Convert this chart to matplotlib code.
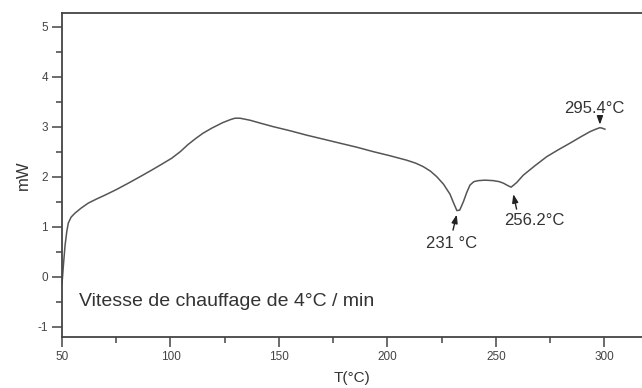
import matplotlib.pyplot as plt

plt.rcParams["font.family"] = ["Liberation Sans", "DejaVu Sans"]
plt.rcParams["axes.unicode_minus"] = False

# DSC curve
temp = [50.0, 50.6, 51.4, 52.2, 52.9, 54.2, 56.0, 58.8, 62.1, 65.8, 69.8,
        75.0, 80.6, 86.0, 91.3, 96.0, 100.6, 104.5, 108.0, 111.5, 115.0,
        119.0, 124.0, 127.5, 129.7, 132.0, 136.6, 141.5, 147.4, 155.0,
        162.8, 170.5, 178.1, 185.8, 193.5, 201.0, 208.8, 213.0, 216.5,
        219.8, 222.7, 225.8, 228.8, 230.5, 232.0, 233.3, 235.0, 236.5,
        238.0, 239.8, 241.8, 245.0, 248.8, 251.5, 253.4, 255.5, 257.0,
        259.5, 262.6, 268.0, 273.4, 278.8, 284.1, 288.8, 293.3, 296.0,
        297.9, 299.0, 300.2]
mw = [-0.15, 0.2, 0.62, 0.9, 1.07, 1.19, 1.27, 1.37, 1.47, 1.55, 1.63,
      1.74, 1.87, 2.0, 2.13, 2.25, 2.37, 2.5, 2.64, 2.76, 2.87,
      2.97, 3.08, 3.14, 3.17, 3.17, 3.13, 3.07, 3.0, 2.92,
      2.83, 2.75, 2.67, 2.59, 2.5, 2.42, 2.33, 2.27, 2.2,
      2.11, 2.0, 1.85, 1.65, 1.47, 1.32, 1.33, 1.5, 1.68,
      1.83, 1.9, 1.92, 1.93, 1.92, 1.9, 1.87, 1.82, 1.79,
      1.88, 2.03, 2.22, 2.4, 2.54, 2.67, 2.79, 2.9, 2.95,
      2.98, 2.97, 2.95]

# peak labels: text, label position, arrow tail, arrow tip
peak_text = ["231 °C", "256.2°C", "295.4°C"]
label_xy = [(229.5, 0.67), (267.5, 1.13), (295.2, 3.37)]
tail_xy = [(230.2, 0.93), (259.5, 1.35), (297.9, 3.22)]
tip_xy = [(231.9, 1.24), (258.0, 1.65), (297.9, 3.04)]

fig = plt.figure(figsize=(6.42, 3.88), dpi=100)
ax = fig.add_axes([62 / 642, 51 / 388, 580 / 642, 323.7 / 388])

ax.plot(temp, mw, color="#555555", lw=1.1)

ax.set_xlim(50, 317.3)
ax.set_ylim(-1.21, 5.27)
ax.set_xticks([50, 100, 150, 200, 250, 300])
ax.set_xticks([75, 125, 175, 225, 275], minor=True)
ax.set_yticks([-1, 0, 1, 2, 3, 4, 5])
ax.set_yticks([-0.5, 0.5, 1.5, 2.5, 3.5, 4.5], minor=True)

ax.spines["right"].set_visible(False)
for side in ["left", "top", "bottom"]:
    ax.spines[side].set_color("#444444")
    ax.spines[side].set_linewidth(1.3)

ax.tick_params(which="major", direction="out", length=7, width=1.1,
               color="#444444", labelsize=8.5, labelcolor="#444444", pad=3)
ax.tick_params(which="minor", direction="out", length=4, width=1.1,
               color="#444444")

ax.set_xlabel("T(°C)", fontsize=11, color="#333333", labelpad=6)
ax.set_ylabel("mW", fontsize=12, color="#333333", labelpad=5)

ax.text(58, -0.5, "Vitesse de chauffage de 4°C / min", fontsize=14,
        color="#333333", va="center", ha="left")

for txt, lab, tail, tip in zip(peak_text, label_xy, tail_xy, tip_xy):
    ax.annotate("", xy=tip, xytext=tail,
                arrowprops=dict(arrowstyle="-|>,head_length=0.5,head_width=0.18",
                                color="#222222", lw=1.0, shrinkA=0, shrinkB=0))
    ax.text(lab[0], lab[1], txt, fontsize=12, color="#333333",
            ha="center", va="center")

fig.savefig("out.png", dpi=100)
